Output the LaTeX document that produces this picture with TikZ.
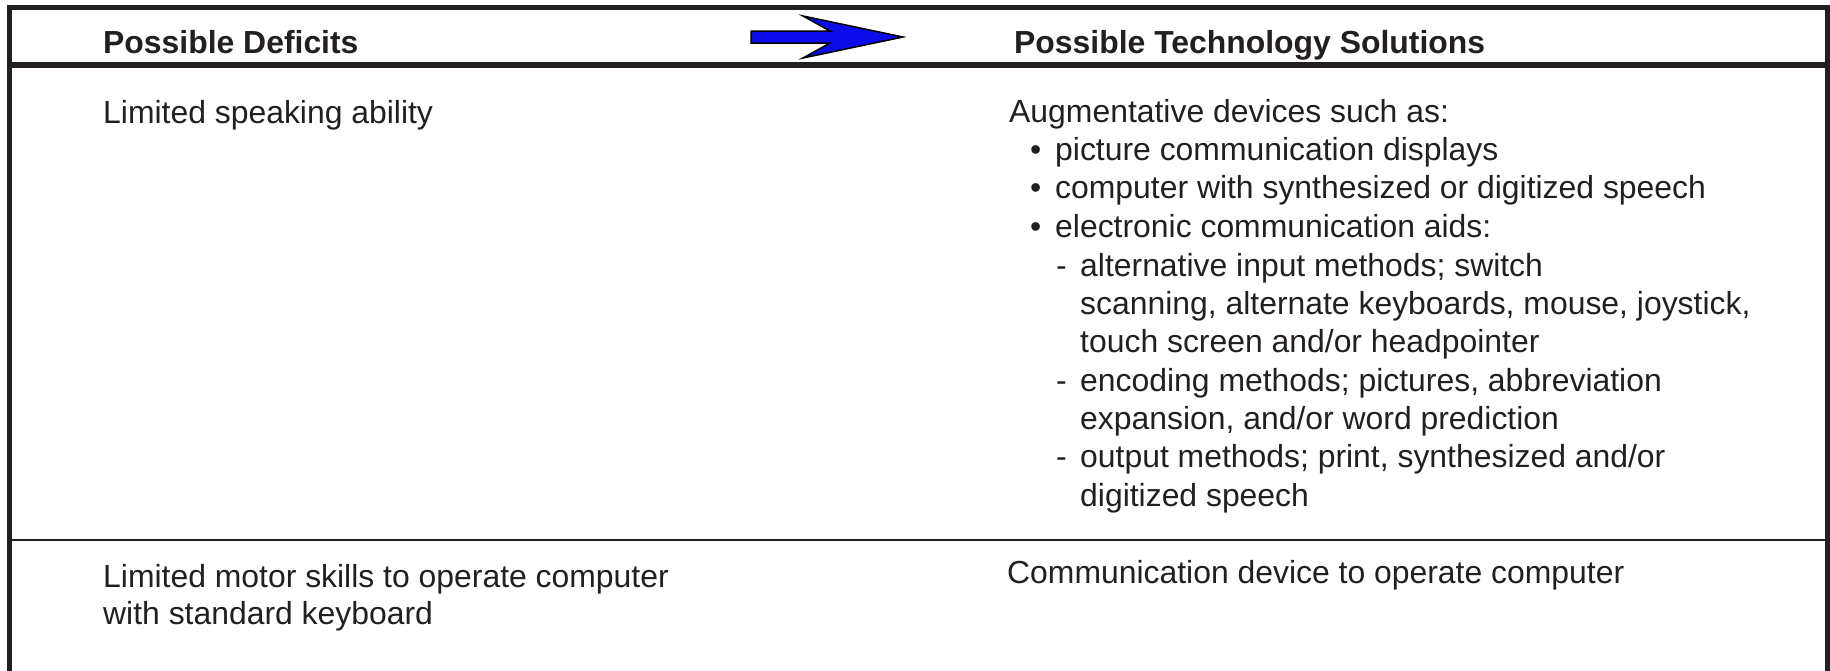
\documentclass[tikz,border=0pt]{standalone}
\usepackage{fontspec}
\setmainfont{Liberation Sans}
\definecolor{ink}{RGB}{35,31,32}
\definecolor{arrowblue}{RGB}{12,12,235}
\tikzset{
    txt/.style={anchor=base west,inner sep=0pt,text=ink,font=\fontsize{31.9}{38.4}\selectfont},
    head/.style={txt,font=\fontsize{31.9}{38.4}\selectfont\bfseries}
}
\begin{document}
\begin{tikzpicture}[x=1pt,y=-1pt]
        \useasboundingbox(0,0)rectangle(1830,670);
        % frame and rules
        \draw[ink,line width=5pt](9.5,680)--(9.5,7.5)--(1827.5,7.5)--(1827.5,680);
        \draw[ink,line width=6pt](7,65)--(1830,65);
        \draw[ink,line width=2.5pt](7,540)--(1830,540);
        % arrow in the header
        \draw[line width=1.5pt,fill=arrowblue](751,31)--(830,31)--(803,16)--(903,37)--(803,58)--(830,43)--(751,43)--cycle;
        \draw(103,53)node[head](hdef){Possible Deficits};
        \draw(1014,53)node[head](hsol){Possible Technology Solutions};
        % deficits
        \foreach \y/\s [count=\i] in {
        123/{Limited speaking ability},
        587/{Limited motor skills to operate computer},
        624/{with standard keyboard}}{
            \draw(103,\y)node[txt](d\i){\s};
        }
        % solutions
        \foreach \x/\y/\s [count=\i] in {
        1009/122/{Augmentative devices such as:},
        1055/160/{picture communication displays},
        1055/198/{computer with synthesized or digitized speech},
        1055/237/{electronic communication aids:},
        1080/276/{alternative input methods; switch},
        1080/314/{scanning, alternate keyboards, mouse, joystick,},
        1080/352/{touch screen and/or headpointer},
        1080/391/{encoding methods; pictures, abbreviation},
        1080/429/{expansion, and/or word prediction},
        1080/467/{output methods; print, synthesized and/or},
        1080/506/{digitized speech},
        1007/583/{Communication device to operate computer}}{
            \draw(\x,\y)node[txt](s\i){\s};
        }
        \foreach \y [count=\i] in {160,198,237}
            \draw(1030,\y)node[txt](b\i){•};
        \foreach \y [count=\i] in {276,391,467}
            \draw(1056,\y)node[txt](m\i){-};
    \end{tikzpicture}
\end{document}
